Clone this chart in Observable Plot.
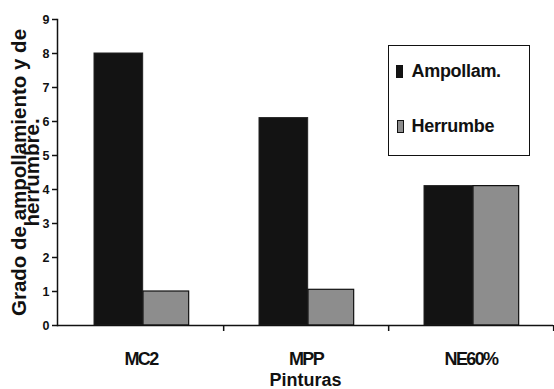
<!DOCTYPE html>
<html>
<head>
<meta charset="utf-8">
<script src="https://cdn.jsdelivr.net/npm/d3@7"></script>
<script src="https://cdn.jsdelivr.net/npm/@observablehq/plot@0.6"></script>
<style>
  html, body { margin: 0; padding: 0; background: #fff; }
  #wrap { position: relative; width: 554px; height: 389px; font-family: "Liberation Sans", Arial, sans-serif; }
  #legend { position: absolute; left: 388px; top: 45px; width: 140px; height: 109px; border: 1.5px solid #111; box-sizing: content-box; }
  .sw { position: absolute; width: 7px; height: 13px; box-sizing: border-box; border: 1px solid #111; }
  .lt { position: absolute; font-size: 18px; line-height: 18px; font-weight: bold; color: #111; white-space: nowrap; letter-spacing: -0.3px; }
  g[aria-label="x-axis tick label"] text { letter-spacing: -1.6px; }
</style>
</head>
<body>
<div id="wrap"></div>
<script>
const categories = ["MC2", "MPP", "NE60%"];
const seriesNames = ["Ampollam.", "Herrumbe"];
const ampollam = [8.0, 6.1, 4.1];
const herrumbe = [1.0, 1.05, 4.1];
const yTicks = [0, 1, 2, 3, 4, 5, 6, 7, 8, 9];
const colors = ["#131313", "#8d8d8d"];

const width = 554, height = 389;
const marginLeft = 57, marginRight = 1, marginTop = 19, marginBottom = 64;
const bw = (width - marginLeft - marginRight) / categories.length;

const rowsA = categories.map((c, i) => ({cat: c, series: seriesNames[0], value: ampollam[i]}));
const rowsH = categories.map((c, i) => ({cat: c, series: seriesNames[1], value: herrumbe[i]}));

const plot = Plot.plot({
  width, height, marginLeft, marginRight, marginTop, marginBottom,
  style: {fontFamily: "'Liberation Sans', Arial, sans-serif", color: "#111", background: "transparent"},
  x: {domain: categories, padding: 0, label: null},
  y: {domain: [0, 9], label: null},
  marks: [
    Plot.barY(rowsA, {x: "cat", y: "value", fill: colors[0], stroke: "#222", strokeWidth: 1, insetLeft: 36, insetRight: bw - 85}),
    Plot.barY(rowsH, {x: "cat", y: "value", fill: colors[1], stroke: "#111", strokeWidth: 1.2, insetLeft: 85, insetRight: bw - 131}),
    Plot.frame({anchor: "left", stroke: "#111", strokeWidth: 1.5}),
    Plot.ruleY([0], {stroke: "#111", strokeWidth: 1.5}),
    Plot.ruleX(categories, {x: d => d, dx: bw / 2, y1: 0, y2: 0, insetBottom: -6, stroke: "#111", strokeWidth: 1.5}),
    Plot.axisY({ticks: yTicks, tickSize: 5, tickPadding: 3, tickFormat: d3.format("d"), fontSize: 12.5, fontWeight: "bold", label: null, strokeWidth: 1.5}),
    Plot.axisX({tickSize: 0, tickPadding: 27, fontSize: 18, fontWeight: "bold", label: null}),
    Plot.text(["Pinturas"], {frameAnchor: "bottom", dy: 55, lineAnchor: "middle", fontSize: 18, fontWeight: "bold", fill: "#111"}),
    Plot.text(["Grado de ampollamiento y de\nherrumbre."], {frameAnchor: "left", textAnchor: "middle", rotate: -90, dx: -29, dy: 0, lineAnchor: "middle", lineHeight: 0.63, fontSize: 20.5, fontWeight: "bold", fill: "#111"})
  ]
});

const wrap = document.getElementById("wrap");
wrap.appendChild(plot);

const legend = document.createElement("div");
legend.id = "legend";
wrap.appendChild(legend);
const items = [
  {name: seriesNames[0], color: colors[0], sx: 396, sy: 65, tx: 412, ty: 62},
  {name: seriesNames[1], color: colors[1], sx: 397, sy: 120, tx: 412, ty: 117}
];
for (const it of items) {
  const sw = document.createElement("div");
  sw.className = "sw";
  sw.style.left = (it.sx - 389.5) + "px";
  sw.style.top = (it.sy - 46.5) + "px";
  sw.style.background = it.color;
  legend.appendChild(sw);
  const t = document.createElement("div");
  t.className = "lt";
  t.style.left = (it.tx - 389.5) + "px";
  t.style.top = (it.ty - 46.5) + "px";
  t.textContent = it.name;
  legend.appendChild(t);
}
</script>
</body>
</html>
